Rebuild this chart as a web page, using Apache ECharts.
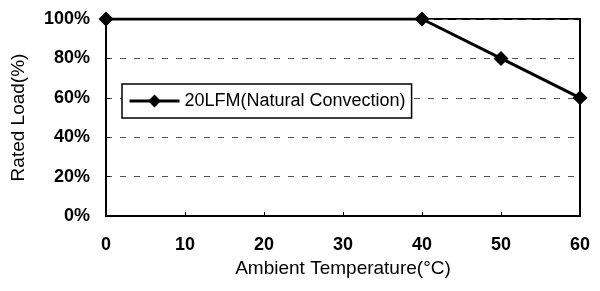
<!DOCTYPE html>
<html><head><meta charset="utf-8">
<script src="https://cdn.jsdelivr.net/npm/echarts@6/dist/echarts.min.js"></script>
<style>html,body{margin:0;padding:0;background:#fff}#c{width:600px;height:291px}</style>
</head><body><div id="c"></div>
<script>
const temps = [0, 40, 50, 60];
const load = [100, 100, 80, 60];
const seriesName = '20LFM(Natural Convection)';
const xName = 'Ambient Temperature(\u00B0C)';
const yName = 'Rated Load(%)';
const font = '"Liberation Sans", Arial, sans-serif';
const chart = echarts.init(document.getElementById('c'));
chart.setOption({
  animation: false,
  backgroundColor: '#fff',
  grid: {left: 106, right: 20, top: 19, bottom: 75, show: true, borderColor: '#000', borderWidth: 2},
  legend: {
    left: 122, top: 84,
    padding: [8, 6, 8, 6],
    borderColor: '#000', borderWidth: 1.5, borderRadius: 0, backgroundColor: '#fff',
    itemWidth: 50, itemHeight: 16,
    lineStyle: {width: 3, color: '#000'},
    textStyle: {fontFamily: font, fontSize: 18, color: '#000', fontWeight: 'normal'},
    data: [seriesName]
  },
  xAxis: {
    type: 'value', min: 0, max: 60, interval: 10,
    name: xName, nameLocation: 'middle', nameGap: 37,
    nameTextStyle: {fontFamily: font, fontSize: 19, color: '#000'},
    axisLine: {lineStyle: {color: '#000', width: 2}},
    axisTick: {inside: true, length: 4, lineStyle: {color: '#000'}},
    axisLabel: {fontFamily: font, fontSize: 18, color: '#000', fontWeight: 'bold', margin: 20},
    splitLine: {show: false}
  },
  yAxis: {
    type: 'value', min: 0, max: 100, interval: 20,
    name: yName, nameLocation: 'middle', nameGap: 78, nameRotate: 90,
    nameTextStyle: {fontFamily: font, fontSize: 19, color: '#000'},
    axisLine: {lineStyle: {color: '#000', width: 2}},
    axisTick: {inside: true, length: 4, lineStyle: {color: '#000'}},
    axisLabel: {fontFamily: font, fontSize: 18, color: '#000', fontWeight: 'bold', margin: 16, formatter: '{value}%'},
    splitLine: {show: true, lineStyle: {color: '#555', type: [6, 8], width: 1}}
  },
  series: [{
    name: seriesName, type: 'line',
    data: temps.map((t, i) => [t, load[i]]),
    symbol: 'diamond', symbolSize: 15,
    lineStyle: {color: '#000', width: 3},
    itemStyle: {color: '#000'}
  }]
});
</script></body></html>
